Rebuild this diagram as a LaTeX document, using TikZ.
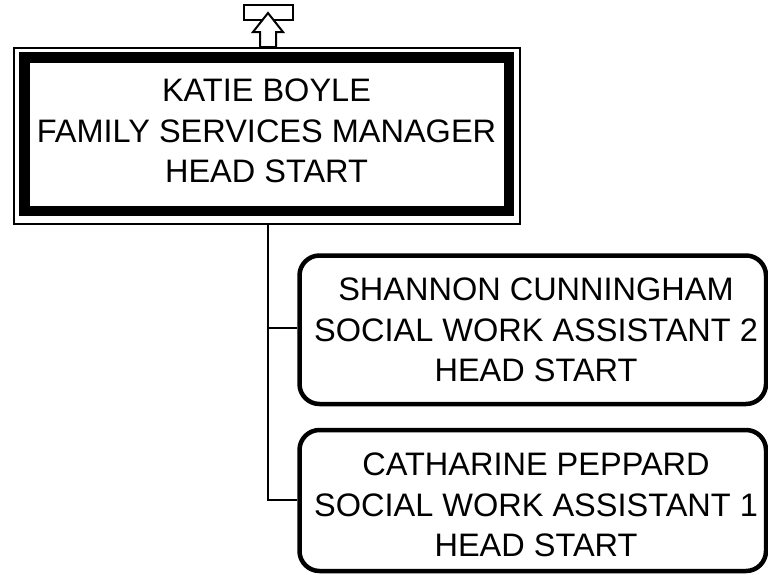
\documentclass[tikz,border=0pt]{standalone}
\usepackage{fontspec}
\setmainfont{Liberation Sans}
\begin{document}
\begin{tikzpicture}[x=1pt,y=-1pt,
  txt/.style={align=center,font=\fontsize{32.5}{40.5}\selectfont,inner sep=0pt},
  bossband/.style={draw,line width=10.5pt,inner sep=0pt,minimum width=484.5pt,minimum height=153.5pt},
  bossouter/.style={draw,line width=2pt,inner sep=0pt,minimum width=506pt,minimum height=176pt},
  childbox/.style={draw,line width=4.5pt,rounded corners=20pt,inner sep=0pt,minimum width=466.5pt},
  conn/.style={line width=2pt},
  iconline/.style={line width=2pt}]
\useasboundingbox (0,0) rectangle (768,574);
% top icon
\node[draw,iconline,inner sep=0pt,minimum width=49pt,minimum height=15pt] (icon) at (268.5,12.5) {};
\coordinate (tip) at (268,13);
\filldraw[iconline,fill=white,line join=miter] (tip) -- (283,32) -- (276,32) -- (276,47) -- (260,47) -- (260,32) -- (253,32) -- cycle;
% boss box
\node[bossouter] (bossframe) at (267,136) {};
\node[bossband] (boss) at (266.75,134.25) {};
\node[txt] (bosstext) at (266.5,131) {KATIE BOYLE\\FAMILY SERVICES MANAGER\\HEAD START};
% children
\node[childbox,minimum height=148.5pt] (c1) at (532.75,329.75) {};
\node[txt] (c1text) at (536,330) {SHANNON CUNNINGHAM\\SOCIAL WORK ASSISTANT 2\\HEAD START};
\node[childbox,minimum height=141pt] (c2) at (532.75,500.5) {};
\node[txt] (c2text) at (536,505) {CATHARINE PEPPARD\\SOCIAL WORK ASSISTANT 1\\HEAD START};
% connectors
\coordinate (trunk) at (268,224);
\coordinate (j1) at (268,328);
\coordinate (j2) at (268,500);
\draw[conn] (trunk) -- (j2) -- (c2.west |- j2);
\draw[conn] (j1) -- (c1.west |- j1);
\end{tikzpicture}
\end{document}
